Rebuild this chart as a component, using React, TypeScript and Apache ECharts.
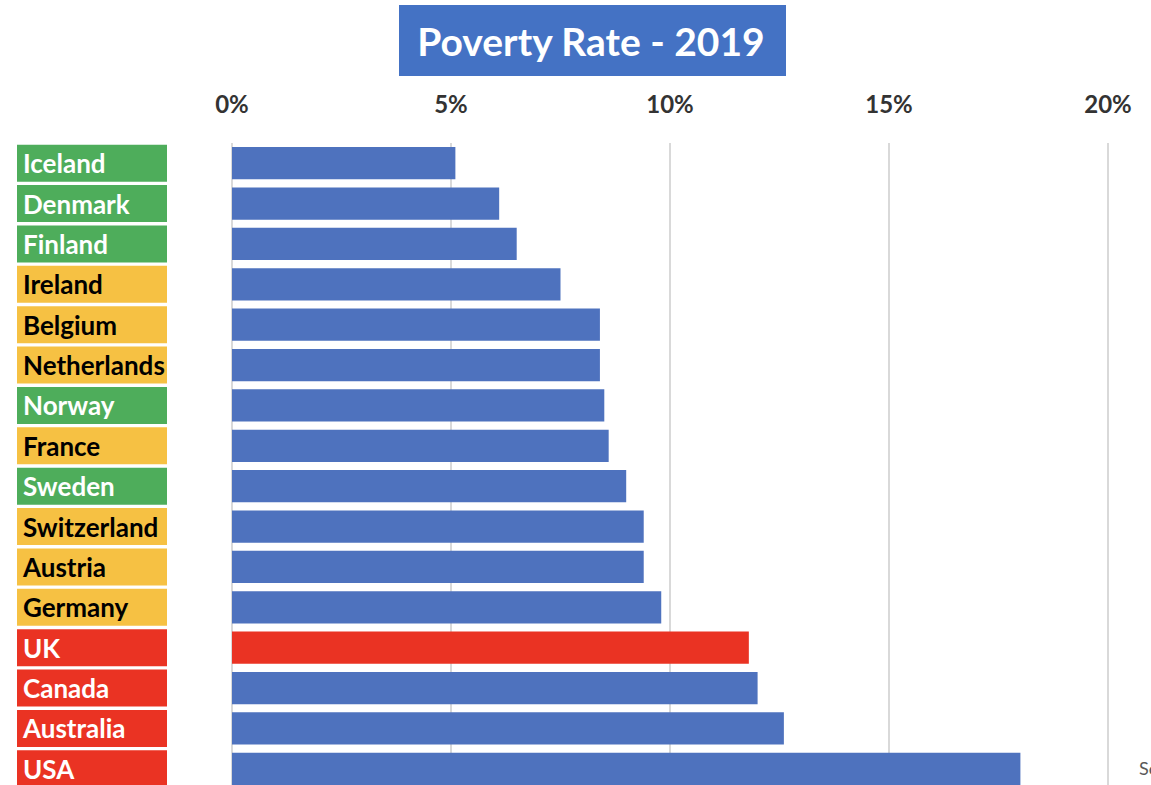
import React, { useEffect, useRef } from "react";
import * as echarts from "echarts";

const countries = [
  "Iceland", "Denmark", "Finland", "Ireland", "Belgium", "Netherlands", "Norway", "France",
  "Sweden", "Switzerland", "Austria", "Germany", "UK", "Canada", "Australia", "USA",
];
const povertyRate = [5.1, 6.1, 6.5, 7.5, 8.4, 8.4, 8.5, 8.6, 9.0, 9.4, 9.4, 9.8, 11.8, 12.0, 12.6, 18.0];
// label group: g = green, y = yellow, r = red
const groups = ["g", "g", "g", "y", "y", "y", "g", "y", "g", "y", "y", "y", "r", "r", "r", "r"];
const highlighted = ["UK"];
const xTicks = [0, 5, 10, 15, 20];

const BLUE = "#4E72BE";
const RED = "#EA3323";
const FONT = "Lato, 'Open Sans', sans-serif";

export default function App() {
  const ref = useRef<HTMLDivElement>(null);
  useEffect(() => {
    if (!ref.current) return;
    const chart = echarts.init(ref.current, undefined, { renderer: "svg" });
    const labelBox = (bg: string, color: string) => ({
      backgroundColor: bg,
      color,
      fontFamily: FONT,
      fontWeight: "bold",
      fontSize: 26,
      width: 144,
      height: 37,
      lineHeight: 37,
      padding: [0, 0, 0, 6],
      align: "left",
    });
    chart.setOption({
      animation: false,
      backgroundColor: "#ffffff",
      grid: { left: 232, width: 876, top: 143, height: 646, containLabel: false },
      xAxis: {
        type: "value",
        position: "top",
        min: xTicks[0],
        max: xTicks[xTicks.length - 1],
        interval: 5,
        axisLine: { show: false },
        axisTick: { show: false },
        axisLabel: {
          margin: 28,
          formatter: (v: number) => `${v}%`,
          color: "#333333",
          fontFamily: FONT,
          fontWeight: "bold",
          fontSize: 24,
        },
        splitLine: { show: true, lineStyle: { color: "#D9D9D9", width: 2 } },
      },
      yAxis: {
        type: "category",
        data: countries,
        inverse: true,
        axisLine: { show: false },
        axisTick: { show: false },
        axisLabel: {
          align: "left",
          margin: 215,
          formatter: (v: string) => `{${groups[countries.indexOf(v)]}|${v}}`,
          rich: {
            g: labelBox("#4EAD5B", "#ffffff"),
            y: labelBox("#F6C143", "#000000"),
            r: labelBox(RED, "#ffffff"),
          },
        },
      },
      series: [
        {
          type: "bar",
          data: povertyRate.map((v, i) => ({
            value: v,
            itemStyle: { color: highlighted.includes(countries[i]) ? RED : BLUE },
          })),
          barCategoryGap: "20%",
        },
      ],
      graphic: [
        { type: "rect", shape: { x: 399, y: 5, width: 387, height: 71 }, style: { fill: "#4472C4" } },
        {
          type: "text",
          x: 591,
          y: 41,
          style: {
            text: "Poverty Rate - 2019",
            fill: "#ffffff",
            font: `bold 39px ${FONT}`,
            align: "center",
            verticalAlign: "middle",
          },
        },
        {
          type: "text",
          x: 1139,
          y: 768,
          style: {
            text: "Source: OECD",
            fill: "#595959",
            font: `18px ${FONT}`,
            align: "left",
            verticalAlign: "middle",
          },
        },
      ],
    });
    return () => chart.dispose();
  }, []);
  return <div ref={ref} style={{ position: "fixed", left: 0, top: 0, width: 1151, height: 792 }} />;
}
